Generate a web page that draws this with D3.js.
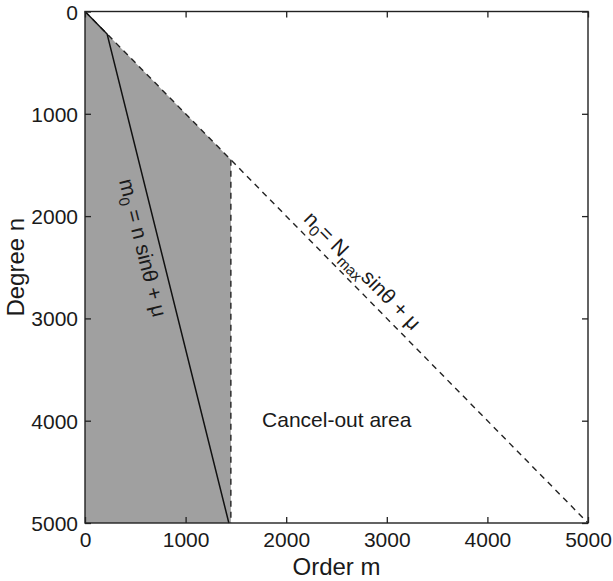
<!DOCTYPE html>
<html lang="en">
<head>
    <meta charset="UTF-8">
    <script src="https://d3js.org/d3.v7.min.js"></script>
    <style>
        body { margin: 0; background: white; }
        text { font-family: "Liberation Sans", Arial, Helvetica, sans-serif; fill: #1a1a1a; }
        .tick-label { font-size: 21px; }
        .axis-label { font-size: 24px; }
        .note { font-size: 21px; }
    </style>
</head>
<body>
    <div id="chart"></div>

    <script>
        // axis ticks (order m on x, degree n on y, y grows downward)
        const xTicks = [0, 1000, 2000, 3000, 4000, 5000];
        const yTicks = [0, 1000, 2000, 3000, 4000, 5000];

        // shaded region [m, n]
        const shaded = [[0, 0], [1450, 1450], [1450, 5000], [0, 5000]];
        // solid line m0 = n sin(theta) + mu
        const solidLine = [[0, 0], [220, 220], [1430, 5000]];
        // dashed lines
        const diagLine = [[0, 0], [5000, 5000]];
        const cutLine = [[1450, 1450], [1450, 5000]];

        const width = 613;
        const height = 581;
        const margin = { top: 11.5, right: 25, bottom: 58, left: 85 };

        const svg = d3.select("#chart")
            .append("svg")
            .attr("width", width)
            .attr("height", height);

        const x = d3.scaleLinear().domain([0, 5000]).range([margin.left, width - margin.right]);
        const y = d3.scaleLinear().domain([0, 5000]).range([margin.top, height - margin.bottom]);

        const line = d3.line().x(d => x(d[0])).y(d => y(d[1]));

        svg.append("path")
            .attr("d", line(shaded) + "Z")
            .attr("fill", "#a0a0a0");

        svg.append("path")
            .attr("d", line(diagLine))
            .attr("fill", "none")
            .attr("stroke", "#222")
            .attr("stroke-width", 1.4)
            .attr("stroke-dasharray", "6,5");

        svg.append("path")
            .attr("d", line(cutLine))
            .attr("fill", "none")
            .attr("stroke", "#222")
            .attr("stroke-width", 1.4)
            .attr("stroke-dasharray", "6,5");

        svg.append("path")
            .attr("d", line(solidLine))
            .attr("fill", "none")
            .attr("stroke", "#111")
            .attr("stroke-width", 1.5);

        // axes: ticks inside on all four sides
        const tickLen = 6;
        const fmt = d3.format("d");
        const axisBottom = d3.axisBottom(x).tickValues(xTicks).tickFormat(fmt).tickSizeInner(-tickLen).tickSizeOuter(0).tickPadding(9);
        const axisTop = d3.axisTop(x).tickValues(xTicks).tickSizeInner(-tickLen).tickSizeOuter(0).tickFormat("");
        const axisLeft = d3.axisLeft(y).tickValues(yTicks).tickFormat(fmt).tickSizeInner(-tickLen).tickSizeOuter(0).tickPadding(7);
        const axisRight = d3.axisRight(y).tickValues(yTicks).tickSizeInner(-tickLen).tickSizeOuter(0).tickFormat("");

        const gB = svg.append("g").attr("transform", `translate(0,${y(5000)})`).call(axisBottom);
        const gT = svg.append("g").attr("transform", `translate(0,${y(0)})`).call(axisTop);
        const gL = svg.append("g").attr("transform", `translate(${x(0)},0)`).call(axisLeft);
        const gR = svg.append("g").attr("transform", `translate(${x(5000)},0)`).call(axisRight);

        [gB, gT, gL, gR].forEach(g => {
            g.select(".domain").remove();
            g.selectAll("line").attr("stroke", "#222").attr("stroke-width", 1.3);
            g.selectAll("text").attr("class", "tick-label").attr("fill", null);
        });
        gB.selectAll("text").attr("dy", "0.71em");
        gL.selectAll("text").attr("dy", "0.36em");

        svg.append("rect")
            .attr("x", x(0))
            .attr("y", y(0))
            .attr("width", x(5000) - x(0))
            .attr("height", y(5000) - y(0))
            .attr("fill", "none")
            .attr("stroke", "#222")
            .attr("stroke-width", 1.4);

        svg.append("text")
            .attr("class", "axis-label")
            .attr("x", (x(0) + x(5000)) / 2)
            .attr("y", 575)
            .attr("text-anchor", "middle")
            .text("Order m");

        svg.append("text")
            .attr("class", "axis-label")
            .attr("transform", `translate(24,${(y(0) + y(5000)) / 2}) rotate(-90)`)
            .attr("text-anchor", "middle")
            .text("Degree n");

        // annotation along solid line
        const a1 = solidLine[1], b1 = solidLine[2];
        const ang1 = Math.atan2(y(b1[1]) - y(a1[1]), x(b1[0]) - x(a1[0])) * 180 / Math.PI;
        const t1 = svg.append("text")
            .attr("class", "note")
            .attr("transform", `translate(${x(739)},${y(2270)}) rotate(${ang1})`)
            .attr("text-anchor", "middle")
            .attr("dy", 24);
        t1.append("tspan").text("m");
        t1.append("tspan").attr("font-size", "15px").attr("dy", 5).text("0");
        t1.append("tspan").attr("dy", -5).text(" = n sinθ + μ");

        // annotation along dashed diagonal
        const ang2 = Math.atan2(y(5000) - y(0), x(5000) - x(0)) * 180 / Math.PI;
        const t2 = svg.append("text")
            .attr("class", "note")
            .attr("transform", `translate(${x(2660)},${y(2630)}) rotate(${ang2})`)
            .attr("text-anchor", "middle")
            .attr("dy", -7);
        t2.append("tspan").text("n");
        t2.append("tspan").attr("font-size", "15px").attr("dy", 5).text("0");
        t2.append("tspan").attr("dy", -5).text("= N");
        t2.append("tspan").attr("font-size", "15px").attr("dy", 6).text("max");
        t2.append("tspan").attr("dy", -6).text("sinθ + μ");

        svg.append("text")
            .attr("class", "note")
            .attr("x", x(1760))
            .attr("y", 427)
            .text("Cancel-out area");
    </script>
</body>
</html>
